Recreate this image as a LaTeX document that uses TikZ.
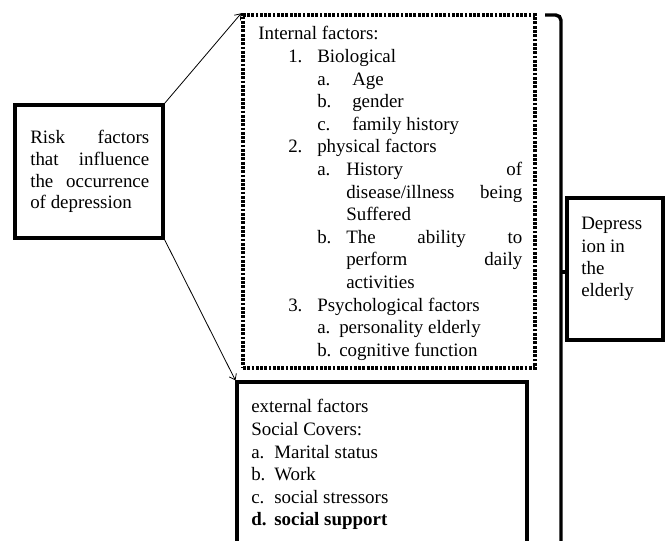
\documentclass[tikz,border=0pt]{standalone}
\usepackage{fontspec}
\setmainfont{LiberationSerif}[Extension=.ttf, UprightFont=*-Regular, BoldFont=*-Bold, ItalicFont=*-Italic, BoldItalicFont=*-BoldItalic]
\usetikzlibrary{arrows.meta}
\newcommand\jst[2]{\makebox[#1][s]{#2}}
\begin{document}
\begin{tikzpicture}[x=0.75pt,y=-0.75pt,
  font=\fontsize{14.2}{17}\selectfont,
  solidbox/.style={draw, line width=2.3pt, inner sep=0pt},
  dotbox/.style={draw, line width=2.6pt, dash pattern=on 2.1pt off 1.1pt, inner sep=0pt},
  tx/.style={anchor=base west, inner sep=0pt},
  arr/.style={line width=0.6pt, -{Straight Barb[length=4pt,width=6pt]}},
  brk/.style={line width=2.6pt}]
\useasboundingbox (0,0) rectangle (668,541);
\fill[white] (0,0) rectangle (668,541);

% boxes
\node[solidbox, minimum width=148*0.75pt, minimum height=133*0.75pt] (risk) at (89,171.5) {};
\node[dotbox, minimum width=292*0.75pt, minimum height=353*0.75pt] (int) at (389,191.5) {};
\node[solidbox, minimum width=290*0.75pt, minimum height=178*0.75pt] (ext) at (382,471) {};
\node[solidbox, minimum width=96*0.75pt, minimum height=142*0.75pt] (dep) at (615,269) {};

% risk text
\node[tx] (r1) at (30,144) {\jst{89.25pt}{Risk factors}};
\node[tx] (r2) at (30,165.6) {\jst{89.25pt}{that influence}};
\node[tx] (r3) at (30,187.2) {\jst{89.25pt}{the occurrence}};
\node[tx] (r4) at (30,208.8) {of depression};

% internal factors text
\node[tx] (i0) at (258,40) {Internal factors:};
\node[tx] (i1n) at (288,62.6) {1.};
\node[tx] (i1t) at (317,62.6) {Biological};
\node[tx] (i2n) at (317,85.2) {a.};
\node[tx] (i2t) at (352,85.2) {Age};
\node[tx] (i3n) at (317,107.8) {b.};
\node[tx] (i3t) at (352,107.8) {gender};
\node[tx] (i4n) at (317,130.4) {c.};
\node[tx] (i4t) at (352,130.4) {family history};
\node[tx] (i5n) at (288,153) {2.};
\node[tx] (i5t) at (317,153) {physical factors};
\node[tx] (i6n) at (317,175.6) {a.};
\node[tx] (i6t) at (346,175.6) {\jst{132pt}{History of}};
\node[tx] (i7t) at (346,198.2) {\jst{132pt}{disease/illness being}};
\node[tx] (i8t) at (346,220.8) {Suffered};
\node[tx] (i9n) at (317,243.4) {b.};
\node[tx] (i9t) at (346,243.4) {\jst{132pt}{The ability to}};
\node[tx] (i10t) at (346,266) {\jst{132pt}{perform daily}};
\node[tx] (i11t) at (346,288.6) {activities};
\node[tx] (i12n) at (288,311.2) {3.};
\node[tx] (i12t) at (317,311.2) {Psychological factors};
\node[tx] (i13n) at (317,333.8) {a.};
\node[tx] (i13t) at (339,333.8) {personality elderly};
\node[tx] (i14n) at (317,356.4) {b.};
\node[tx] (i14t) at (339,356.4) {cognitive function};

% external factors text
\node[tx] (e0) at (251,413) {external factors};
\node[tx] (e1) at (251,435.6) {Social Covers:};
\node[tx] (e2n) at (251,458.2) {a.};
\node[tx] (e2t) at (274,458.2) {Marital status};
\node[tx] (e3n) at (251,480.8) {b.};
\node[tx] (e3t) at (274,480.8) {Work};
\node[tx] (e4n) at (251,503.4) {c.};
\node[tx] (e4t) at (274,503.4) {social stressors};
\node[tx, font=\fontsize{14.2}{17}\selectfont\bfseries] (e5n) at (251,526) {d.};
\node[tx, font=\fontsize{14.2}{17}\selectfont\bfseries] (e5t) at (274,526) {social support};

% depression text
\node[tx] (d1) at (581,230) {Depress};
\node[tx] (d2) at (581,252.3) {ion in};
\node[tx] (d3) at (581,274.6) {the};
\node[tx] (d4) at (581,296.9) {elderly};

% arrows
\draw[arr] (risk.north east) -- (int.north west);
\draw[arr] (risk.south east) -- (ext.north west);

% bracket
\coordinate (btop) at (545,15);
\coordinate (bbot) at (561,545);
\coordinate (btip) at (561,272);
\draw[brk, rounded corners=4pt] (btop) -| (bbot);
\draw[brk] (btip) -- (btip -| dep.west);
\end{tikzpicture}
\end{document}
